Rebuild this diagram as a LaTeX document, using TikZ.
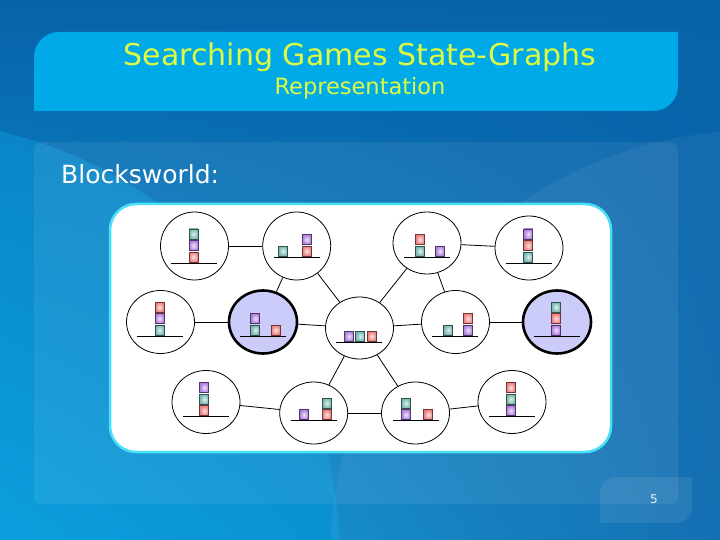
\documentclass[tikz,border=0pt]{standalone}
\usepackage{fontspec}
\setmainfont{DejaVu Sans}
\usepackage{xcolor}
\usetikzlibrary{shapes.geometric, shadings}

\definecolor{bgdark}{RGB}{8,98,168}
\definecolor{bglight}{RGB}{12,160,222}
\definecolor{banner}{RGB}{0,170,232}
\definecolor{titlecol}{RGB}{222,252,64}
\definecolor{rimcol}{RGB}{70,225,245}
\definecolor{goalfill}{RGB}{204,204,250}
\definecolor{blkteal}{RGB}{95,170,160}
\definecolor{blkpurple}{RGB}{160,105,215}
\definecolor{blkred}{RGB}{232,105,105}

% one block: x, ground, level, colour
\newcommand{\blk}[4]{%
  \shadedraw[draw=#4!50!black, line width=0.9pt, inner color=#4!18!white, outer color=#4!85!white]
    ({#1-4.5},{#2-1-11.5*#3}) rectangle ++(9,-10);}

\begin{document}
\begin{tikzpicture}[x=1pt, y=-1pt,
    state/.style={ellipse, draw, line width=0.8pt, fill=white, minimum width=68pt, minimum height=63pt, inner sep=0pt},
    goal/.style={state, line width=2.6pt, fill=goalfill},
    link/.style={line width=0.8pt},
    ground/.style={line width=0.8pt}]
    % background
    \useasboundingbox (0,0) rectangle (720,540);
    \shade[upper left=bgdark, upper right=bgdark, lower left=bglight, lower right=bgdark!90!bglight] (0,0) rectangle (720,540);
    \fill[bglight, opacity=0.45] (-100,560) circle (440);
    \fill[white, opacity=0.05] (760,560) circle (430);

    % title banner
    \fill[banner] (34,111) -- (34,57) arc (180:270:25) -- (678,32) -- (678,86) arc (0:90:25) -- cycle;
    \node[titlecol, anchor=base, inner sep=0pt, font=\fontsize{30}{34}\selectfont] (title) at (360,66) {Searching Games State-Graphs};
    \node[titlecol, anchor=base, inner sep=0pt, font=\fontsize{22.5}{26}\selectfont] (subtitle) at (360,95) {Representation};

    % content panel
    \fill[white, opacity=0.07, rounded corners=8] (34,142) rectangle (678,504);
    \node[white, anchor=base west, inner sep=0pt, font=\fontsize{25}{29}\selectfont] (heading) at (61,184) {Blocksworld:};

    % page number
    \fill[white, opacity=0.08] (600,523) -- (600,493) arc (180:270:16) -- (692,477) -- (692,507) arc (0:90:16) -- cycle;
    \node[white!90!cyan, font=\fontsize{12}{14}\selectfont] (page) at (654,499) {5};

    % diagram panel
    \fill[white, draw=rimcol, line width=2.5pt, rounded corners=26] (110,204) rectangle (611,452);

    % states
    \node[state, minimum height=68pt] (A) at (194.5,246) {};
    \node[state, minimum height=68pt] (B) at (296.7,246) {};
    \node[state] (C) at (160.5,322) {};
    \node[goal] (D) at (263,322) {};
    \node[state, minimum height=62pt] (E) at (359.5,328) {};
    \node[state] (F) at (455.5,322) {};
    \node[state, minimum height=62pt] (G) at (427,243) {};
    \node[state, minimum height=64pt] (H) at (529,248) {};
    \node[goal] (I) at (557,322) {};
    \node[state] (J) at (206,402) {};
    \node[state, minimum height=62pt] (K) at (313.7,413) {};
    \node[state, minimum height=62pt] (L) at (415.5,413) {};
    \node[state] (M) at (512,402) {};

    % moves
    \foreach \a/\b in {A/B, B/D, B/E, C/D, D/E, E/F, G/E, G/F, G/H, F/I, E/K, E/L, J/K, K/L, L/M}
        \draw[link] (\a) -- (\b);

    % table lines
    \draw[ground] (171,263) -- (217,263);
    \draw[ground] (274,257) -- (320,257);
    \draw[ground] (137,336) -- (183,336);
    \draw[ground] (240,336) -- (286,336);
    \draw[ground] (336,342.3) -- (382,342.3);
    \draw[ground] (432,336) -- (478,336);
    \draw[ground] (404,257) -- (450,257);
    \draw[ground] (506,263) -- (552,263);
    \draw[ground] (534,336) -- (580,336);
    \draw[ground] (183,416.7) -- (229,416.7);
    \draw[ground] (291,420.7) -- (337,420.7);
    \draw[ground] (393,420.7) -- (439,420.7);
    \draw[ground] (489,416.7) -- (535,416.7);

    % blocks
    \foreach \x/\l/\c in {193.5/0/blkred, 193.5/1/blkpurple, 193.5/2/blkteal} {\blk{\x}{263}{\l}{\c}}
    \foreach \x/\l/\c in {283/0/blkteal, 306.7/0/blkred, 306.7/1/blkpurple} {\blk{\x}{257}{\l}{\c}}
    \foreach \x/\l/\c in {159.5/0/blkteal, 159.5/1/blkpurple, 159.5/2/blkred} {\blk{\x}{336}{\l}{\c}}
    \foreach \x/\l/\c in {255.3/0/blkteal, 255.3/1/blkpurple, 275.7/0/blkred} {\blk{\x}{336}{\l}{\c}}
    \foreach \x/\l/\c in {349/0/blkpurple, 360.3/0/blkteal, 371.7/0/blkred} {\blk{\x}{342.3}{\l}{\c}}
    \foreach \x/\l/\c in {448.3/0/blkteal, 468/0/blkpurple, 468/1/blkred} {\blk{\x}{336}{\l}{\c}}
    \foreach \x/\l/\c in {420/0/blkteal, 420/1/blkred, 440/0/blkpurple} {\blk{\x}{257}{\l}{\c}}
    \foreach \x/\l/\c in {528.3/0/blkteal, 528.3/1/blkred, 528.3/2/blkpurple} {\blk{\x}{263}{\l}{\c}}
    \foreach \x/\l/\c in {556/0/blkpurple, 556/1/blkred, 556/2/blkteal} {\blk{\x}{336}{\l}{\c}}
    \foreach \x/\l/\c in {204.3/0/blkred, 204.3/1/blkteal, 204.3/2/blkpurple} {\blk{\x}{416.7}{\l}{\c}}
    \foreach \x/\l/\c in {304/0/blkpurple, 326.7/0/blkred, 326.7/1/blkteal} {\blk{\x}{420.7}{\l}{\c}}
    \foreach \x/\l/\c in {406/0/blkpurple, 406/1/blkteal, 428.3/0/blkred} {\blk{\x}{420.7}{\l}{\c}}
    \foreach \x/\l/\c in {510.7/0/blkpurple, 510.7/1/blkteal, 510.7/2/blkred} {\blk{\x}{416.7}{\l}{\c}}
\end{tikzpicture}
\end{document}
